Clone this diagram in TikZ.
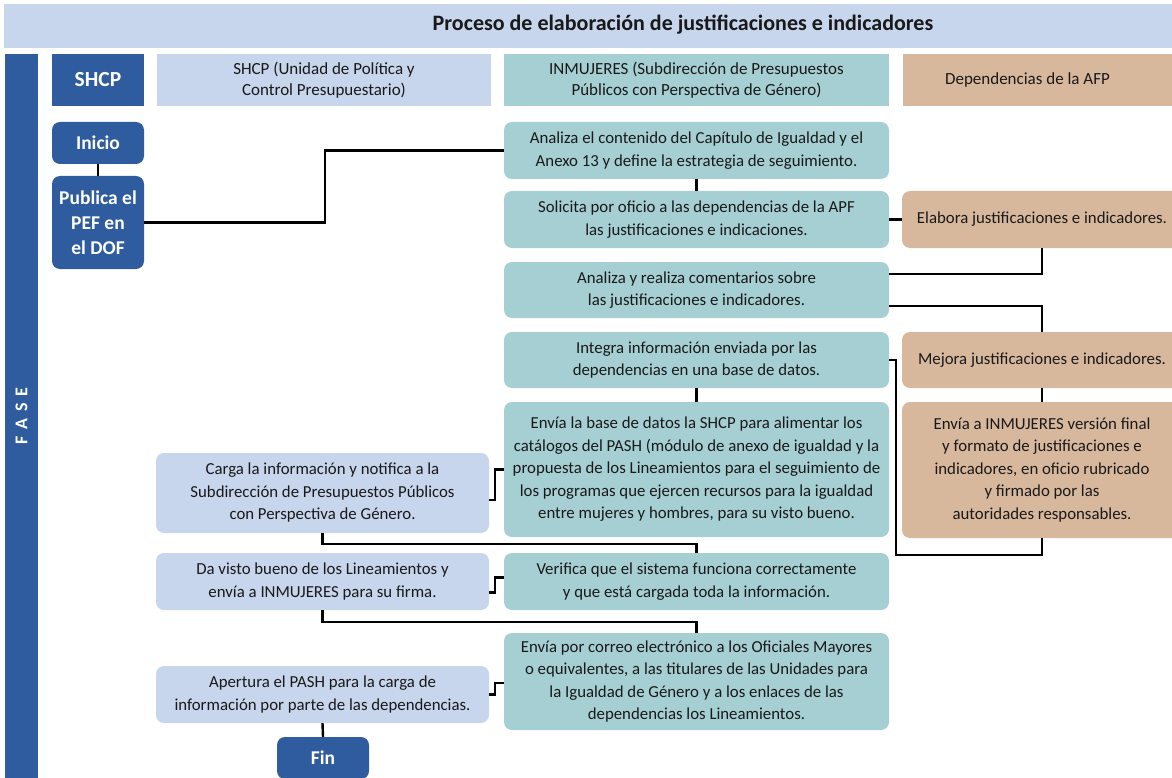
\documentclass[tikz,border=0pt]{standalone}
\usepackage{fontspec}
\setmainfont{Carlito}
\definecolor{dkblue}{RGB}{46,92,158}
\definecolor{ltblue}{RGB}{199,213,237}
\definecolor{teal2}{RGB}{166,207,212}
\definecolor{tan2}{RGB}{216,184,157}
\definecolor{txt}{RGB}{25,25,25}
\begin{document}
\begin{tikzpicture}[x=1pt,y=-1pt,
  box/.style={rectangle, rounded corners=8pt, inner sep=0pt, align=center, text=txt,
    font=\fontsize{16.8}{22.5}\selectfont},
  bluebox/.style={box, fill=ltblue},
  tealbox/.style={box, fill=teal2},
  tanbox/.style={box, fill=tan2},
  darkbox/.style={box, fill=dkblue, text=white, font=\fontsize{19.5}{25}\selectfont\bfseries},
  head/.style={rectangle, inner sep=0pt, align=center, text=txt, minimum height=52pt,
    font=\fontsize{17}{21}\selectfont},
  conn/.style={draw=black, line width=2.4pt}
]
\useasboundingbox (0,0) rectangle (1172,778);
\clip (0,0) rectangle (1172,778);
% title banner
\node[rectangle, fill=ltblue, minimum width=1168pt, minimum height=44pt, inner sep=0pt] (banner) at (588,26) {};
\node[text=txt, font=\fontsize{22}{24}\selectfont\bfseries, inner sep=0pt] (title) at (683,25) {Proceso de elaboración de justificaciones e indicadores};
% FASE bar
\node[rectangle, fill=dkblue, minimum width=33pt, minimum height=730pt, inner sep=0pt] (fasebar) at (21.5,419) {};
\node[rotate=90, text=white, font=\fontsize{18}{20}\selectfont\bfseries, inner sep=0pt] (fase) at (21.5,416) {F\hspace{7pt}A\hspace{7pt}S\hspace{7pt}E};
% headers
\node[head, fill=dkblue, text=white, minimum width=92pt, font=\fontsize{21.5}{24}\selectfont\bfseries] (h1) at (98,80) {SHCP};
\node[head, fill=ltblue, minimum width=334pt] (h2) at (324,80) {SHCP (Unidad de Política y\\Control Presupuestario)};
\node[head, fill=teal2, minimum width=385pt] (h3) at (696.5,80) {INMUJERES (Subdirección de Presupuestos\\Públicos con Perspectiva de Género)};
\node[head, fill=tan2, minimum width=269pt] (h4) at (1037.5,80) {Dependencias de la AFP\hspace{20pt}};
% SHCP column
\node[darkbox, minimum width=92pt, minimum height=42pt] (ini) at (98,143) {Inicio};
\node[darkbox, minimum width=92pt, minimum height=93pt] (pub) at (98,222.5) {Publica el\\PEF en\\el DOF};
% INMUJERES column
\node[tealbox, minimum width=385pt, minimum height=57pt] (an) at (696.5,150.5) {Analiza el contenido del Capítulo de Igualdad y el\\Anexo 13 y define la estrategia de seguimiento.};
\node[tealbox, minimum width=385pt, minimum height=57pt] (so) at (696.5,219.5) {Solicita por oficio a las dependencias de la APF\\las justificaciones e indicaciones.};
\node[tealbox, minimum width=385pt, minimum height=56pt] (ar) at (696.5,290) {Analiza y realiza comentarios sobre\\las justificaciones e indicadores.};
\node[tealbox, minimum width=385pt, minimum height=56pt] (in) at (696.5,360) {Integra información enviada por las\\dependencias en una base de datos.};
\node[tealbox, minimum width=385pt, minimum height=135pt] (eb) at (696.5,469.5) {Envía la base de datos la SHCP para alimentar los\\catálogos del PASH (módulo de anexo de igualdad y la\\propuesta de los Lineamientos para el seguimiento de\\los programas que ejercen recursos para la igualdad\\entre mujeres y hombres, para su visto bueno.};
\node[tealbox, minimum width=385pt, minimum height=57pt] (ve) at (696.5,581.5) {Verifica que el sistema funciona correctamente\\y que está cargada toda la información.};
\node[tealbox, minimum width=385pt, minimum height=97pt] (ec) at (696.5,681.5) {Envía por correo electrónico a los Oficiales Mayores\\o equivalentes, a las titulares de las Unidades para\\la Igualdad de Género y a los enlaces de las\\dependencias los Lineamientos.};
% Dependencias column
\node[tanbox, minimum width=280pt, minimum height=57pt] (el) at (1042,219.5) {Elabora justificaciones e indicadores.};
\node[tanbox, minimum width=280pt, minimum height=56pt] (me) at (1042,360) {Mejora justificaciones e indicadores.};
\node[tanbox, minimum width=280pt, minimum height=136pt] (ei) at (1042,470) {Envía a INMUJERES versión final\\y formato de justificaciones e\\indicadores, en oficio rubricado\\y firmado por las\\autoridades responsables.};
% SHCP unit column
\node[bluebox, minimum width=333pt, minimum height=80pt] (ca) at (322.5,493) {Carga la información y notifica a la\\Subdirección de Presupuestos Públicos\\con Perspectiva de Género.};
\node[bluebox, minimum width=333pt, minimum height=57pt] (dv) at (322.5,581.5) {Da visto bueno de los Lineamientos y\\envía a INMUJERES para su firma.};
\node[bluebox, minimum width=333pt, minimum height=57pt] (ap) at (322.5,694.5) {Apertura el PASH para la carga de\\información por parte de las dependencias.};
\node[darkbox, minimum width=92pt, minimum height=42pt] (fin) at (323,758) {Fin};
% connectors
\draw[conn] (ini.south) -- (pub.north);
\draw[conn] (pub.east) -- ++(181,0) |- (an.west);
\draw[conn] (an.south) -- (so.north);
\draw[conn] (so.east) -- (el.west);
\draw[conn] (el.south) |- ([yshift=16pt]ar.east);
\draw[conn] ([yshift=-16pt]ar.east) -| (me.north);
\draw[conn] (me.south) -- (ei.north);
\draw[conn] (ei.south) -- ++(0,17) -| ([xshift=7pt]in.east) -- (in.east);
\draw[conn] (in.south) -- (eb.north);
\draw[conn] (eb.west) -- ++(-9,0) |- ([yshift=-7pt]ca.east);
\draw[conn] (ca.south) -- ++(0,11) -| (ve.north);
\draw[conn] ([yshift=4pt]ve.west) -- ++(-9,0) |- ([yshift=-11pt]dv.east);
\draw[conn] (dv.south) -- ++(0,12) -| (ec.north);
\draw[conn] ([yshift=-1.5pt]ec.west) -- ++(-9,0) |- (ap.east);
\draw[conn] (ap.south) -- (fin.north);
\end{tikzpicture}
\end{document}
